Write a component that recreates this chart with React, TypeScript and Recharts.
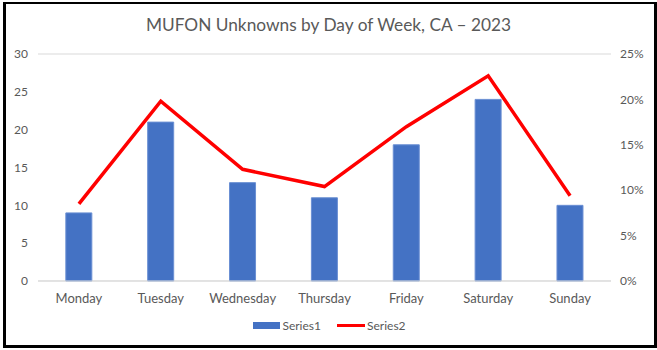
import React from "react";
import {
  ComposedChart,
  Bar,
  Line,
  XAxis,
  YAxis,
  CartesianGrid,
  Legend,
} from "recharts";

const days = ["Monday", "Tuesday", "Wednesday", "Thursday", "Friday", "Saturday", "Sunday"];
const series1 = [9, 21, 13, 11, 18, 24, 10];
const series2 = [8.5, 19.8, 12.3, 10.4, 17.0, 22.6, 9.4];
const countTicks = [0, 5, 10, 15, 20, 25, 30];
const pctTicks = [0, 5, 10, 15, 20, 25];

const data = days.map((day, i) => ({ day, Series1: series1[i], Series2: series2[i] }));

const FONT = "Lato, 'Liberation Sans', sans-serif";
const TEXT = "#595959";

const renderLegend = () => (
  <div
    style={{
      display: "flex",
      justifyContent: "center",
      alignItems: "center",
      fontFamily: FONT,
      fontSize: 12,
      color: TEXT,
      gap: 16,
      paddingTop: 4,
    }}
  >
    <span style={{ display: "flex", alignItems: "center" }}>
      <span style={{ display: "inline-block", width: 27, height: 7, background: "#4472C4", marginRight: 2 }} />
      Series1
    </span>
    <span style={{ display: "flex", alignItems: "center" }}>
      <span style={{ display: "inline-block", width: 28, height: 3, background: "#FF0000", marginRight: 2 }} />
      Series2
    </span>
  </div>
);

const App = () => {
  return (
    <div style={{ position: "absolute", left: 0, top: 0, width: 657, height: 350, background: "#fff" }}>
      <div
        style={{
          position: "absolute",
          left: 0,
          top: 14,
          width: 657,
          textAlign: "center",
          fontFamily: FONT,
          fontSize: 17.3,
          lineHeight: "22px",
          color: TEXT,
        }}
      >
        MUFON Unknowns by Day of Week, CA – 2023
      </div>
      <div style={{ position: "absolute", left: 0, top: 0 }}>
        <ComposedChart
          width={657}
          height={350}
          data={data}
          margin={{ top: 54, right: 6, left: 8, bottom: 8 }}
          barCategoryGap="34%"
        >
          <CartesianGrid vertical={false} stroke="#D9D9D9" strokeWidth={1} />
          <XAxis
            dataKey="day"
            axisLine={{ stroke: "#D9D9D9" }}
            tickLine={false}
            tickMargin={7}
            height={33}
            tick={{ fill: TEXT, fontSize: 13, fontFamily: FONT }}
          />
          <YAxis
            yAxisId="left"
            domain={[0, 30]}
            ticks={countTicks}
            width={30}
            axisLine={false}
            tickLine={false}
            tickMargin={4}
            tick={{ fill: TEXT, fontSize: 12, fontFamily: FONT }}
          />
          <YAxis
            yAxisId="right"
            orientation="right"
            domain={[0, 25]}
            ticks={pctTicks}
            width={40}
            axisLine={false}
            tickLine={false}
            tickMargin={3}
            tickFormatter={(v: number) => `${v}%`}
            tick={{ fill: TEXT, fontSize: 12, fontFamily: FONT, textAnchor: "start" }}
          />
          <Legend verticalAlign="bottom" height={28} content={renderLegend} />
          <Bar
            yAxisId="left"
            dataKey="Series1"
            fill="#4472C4"
            stroke="#6A8FD3"
            strokeWidth={1}
            isAnimationActive={false}
          />
          <Line
            yAxisId="right"
            dataKey="Series2"
            type="linear"
            stroke="#FF0000"
            strokeWidth={3.5}
            dot={false}
            activeDot={false}
            isAnimationActive={false}
          />
        </ComposedChart>
      </div>
      <div
        style={{
          position: "absolute",
          left: 3,
          top: 2,
          width: 648,
          height: 341,
          borderTop: "2px solid #000",
          borderLeft: "3px solid #000",
          borderRight: "3px solid #000",
          borderBottom: "3px solid #000",
          pointerEvents: "none",
        }}
      />
    </div>
  );
};

export default App;
